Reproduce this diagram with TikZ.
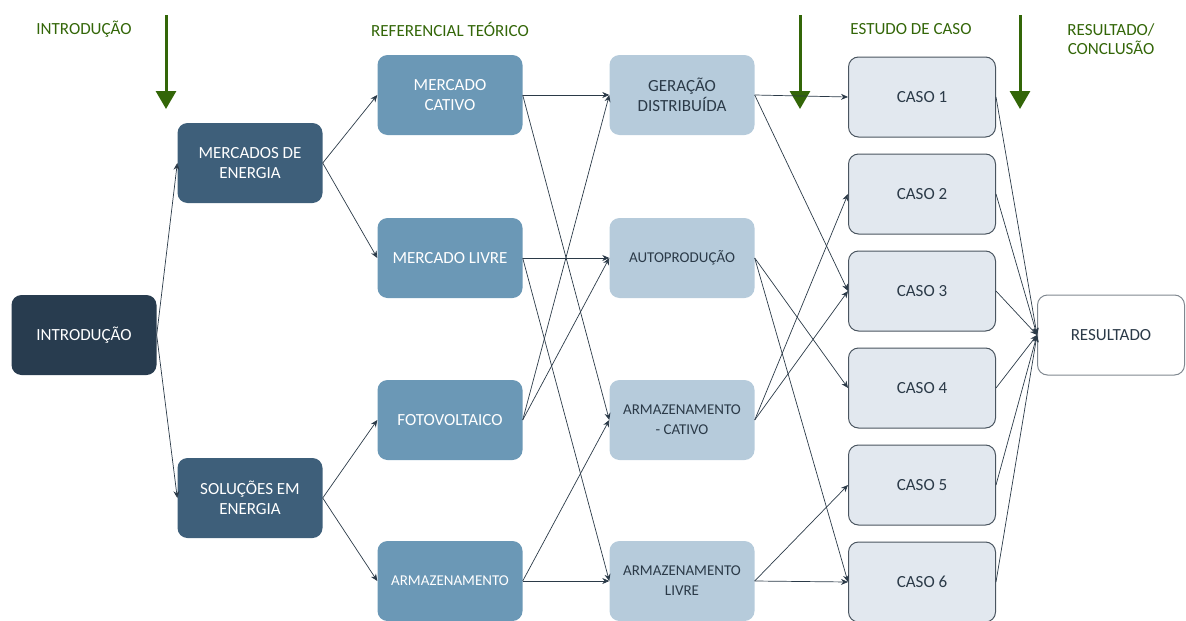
\documentclass[tikz,border=0pt]{standalone}
\usepackage{fontspec}
\setmainfont{Carlito}
\usetikzlibrary{arrows.meta}
\definecolor{azul1}{HTML}{283C4F}
\definecolor{azul2}{HTML}{3E5F7A}
\definecolor{azul3}{HTML}{6B98B6}
\definecolor{azul4}{HTML}{B6CBDB}
\definecolor{azul5}{HTML}{E2E8EF}
\definecolor{borda}{HTML}{4A5560}
\definecolor{linha}{HTML}{2B3A48}
\definecolor{verde}{HTML}{336608}
\newcommand{\menor}{\fontsize{15}{20}\selectfont}
\begin{document}
\begin{tikzpicture}[x=1pt,y=-1pt,
		caixa/.style = {rounded corners=10pt,minimum width=145pt,minimum height=80pt,align=center,inner sep=2pt,font=\fontsize{17}{20}\selectfont},
		nivel1/.style = {caixa,fill=azul1,text=white},
		nivel2/.style = {caixa,fill=azul2,text=white},
		nivel3/.style = {caixa,fill=azul3,text=white},
		nivel4/.style = {caixa,fill=azul4,text=linha},
		caso/.style = {caixa,draw=borda,line width=1pt,fill=azul5,text=linha,minimum width=147pt,minimum height=80pt},
		seta/.style = {draw=linha,line width=0.7pt,-{Stealth[length=7pt,width=6pt]}},
		etapa/.style = {verde,line width=3pt,-{Triangle[length=18pt,width=20pt]}},
		titulo/.style = {text=verde,align=center,font=\fontsize{17}{19}\selectfont}
		]
		\useasboundingbox (0,0) rectangle (1186,621);
		%ETAPAS
		\node[titulo] (@t1) at (84,29) {INTRODUÇÃO};
		\node[titulo] (@t2) at (450,29) {REFERENCIAL TEÓRICO};
		\node[titulo] (@t3) at (911,29) {ESTUDO DE CASO};
		\node[titulo] (@t4) at (1111,39) {RESULTADO/\\CONCLUSÃO};
		\coordinate (@e1a) at (166,15); \coordinate (@e1b) at (166,109);
		\coordinate (@e2a) at (800,15); \coordinate (@e2b) at (800,109);
		\coordinate (@e3a) at (1020,15); \coordinate (@e3b) at (1020,109);
		\draw[etapa] (@e1a) -- (@e1b);
		\draw[etapa] (@e2a) -- (@e2b);
		\draw[etapa] (@e3a) -- (@e3b);
		%COLUNA 1 E 2
		\node[nivel1] (@INT) at (84,335) {INTRODUÇÃO};
		\node[nivel2] (@MER) at (250,163) {MERCADOS DE\\ENERGIA};
		\node[nivel2] (@SOL) at (250,498) {SOLUÇÕES EM\\ENERGIA};
		%COLUNA 3
		\node[nivel3] (@CAT) at (450,95) {MERCADO\\CATIVO};
		\node[nivel3] (@LIV) at (450,258) {MERCADO LIVRE};
		\node[nivel3] (@FOT) at (450,420) {FOTOVOLTAICO};
		\node[nivel3,font=\menor] (@ARM) at (450,581) {ARMAZENAMENTO};
		%COLUNA 4
		\node[nivel4] (@GD) at (682,95) {GERAÇÃO\\DISTRIBUÍDA};
		\node[nivel4,font=\menor] (@AP) at (682,258) {AUTOPRODUÇÃO};
		\node[nivel4,font=\menor] (@AC) at (682,420) {ARMAZENAMENTO\\- CATIVO};
		\node[nivel4,font=\menor] (@AL) at (682,581) {ARMAZENAMENTO\\LIVRE};
		%CASOS
		\node[caso] (@C1) at (922,97) {CASO 1};
		\node[caso] (@C2) at (922,194) {CASO 2};
		\node[caso] (@C3) at (922,291) {CASO 3};
		\node[caso] (@C4) at (922,388) {CASO 4};
		\node[caso] (@C5) at (922,485) {CASO 5};
		\node[caso] (@C6) at (922,582) {CASO 6};
		\node[caso,fill=white,draw=borda!70] (@RES) at (1111,335) {RESULTADO};
		%LIGACOES
		\draw[seta] (@INT.east) -- (@MER.west);
		\draw[seta] (@INT.east) -- (@SOL.west);
		\draw[seta] (@MER.east) -- (@CAT.west);
		\draw[seta] (@MER.east) -- (@LIV.west);
		\draw[seta] (@SOL.east) -- (@FOT.west);
		\draw[seta] (@SOL.east) -- (@ARM.west);
		\draw[seta] (@CAT.east) -- (@GD.west);
		\draw[seta] (@CAT.east) -- (@AC.west);
		\draw[seta] (@LIV.east) -- (@AP.west);
		\draw[seta] (@LIV.east) -- (@AL.west);
		\draw[seta] (@FOT.east) -- (@GD.west);
		\draw[seta] (@FOT.east) -- (@AP.west);
		\draw[seta] (@ARM.east) -- (@AC.west);
		\draw[seta] (@ARM.east) -- (@AL.west);
		\draw[seta] (@GD.east) -- (@C1.west);
		\draw[seta] (@GD.east) -- (@C3.west);
		\draw[seta] (@AP.east) -- (@C4.west);
		\draw[seta] (@AP.east) -- (@C6.west);
		\draw[seta] (@AC.east) -- (@C2.west);
		\draw[seta] (@AC.east) -- (@C3.west);
		\draw[seta] (@AL.east) -- (@C5.west);
		\draw[seta] (@AL.east) -- (@C6.west);
		%RESULTADO
		\draw[seta] (@C1.east) -- (@RES.west);
		\draw[seta] (@C2.east) -- (@RES.west);
		\draw[seta] (@C3.east) -- (@RES.west);
		\draw[seta] (@C4.east) -- (@RES.west);
		\draw[seta] (@C5.east) -- (@RES.west);
		\draw[seta] (@C6.east) -- (@RES.west);
\end{tikzpicture}
\end{document}
